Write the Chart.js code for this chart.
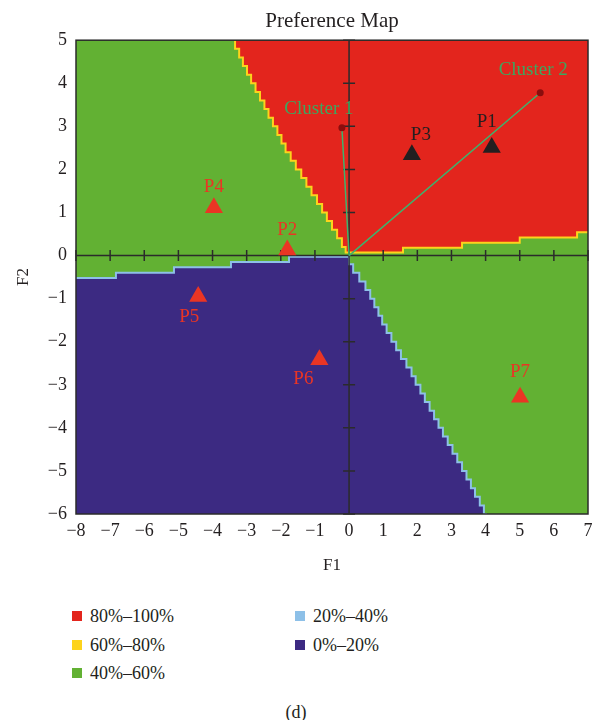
<!DOCTYPE html>
<html lang="en">
<head>
<meta charset="UTF-8">
<title>Preference Map</title>
<style>
  body { margin: 0; background: #fff; font-family: "Liberation Serif", serif; color: #231f20; }
  #wrap { position: relative; width: 592px; height: 720px; }
  #chart { position: absolute; left: 0; top: 0; }
  .key { position: absolute; font-size: 18px; line-height: 20px; white-space: nowrap; }
  .key i { position: absolute; left: 0; top: 5px; width: 10px; height: 10px; }
  .key span { position: absolute; left: 18px; top: 0; }
  #caption { position: absolute; left: 0; width: 592px; top: 701px; text-align: center; font-size: 18px; line-height: 22px; }
</style>
</head>
<body>
<div id="wrap">
  <canvas id="chart" width="592" height="590"></canvas>
  <div id="legend"></div>
  <div id="caption">(d)</div>
</div>

<script src="https://cdn.jsdelivr.net/npm/chart.js"></script>
<script>
// axis ticks
const xTicks = [-8, -7, -6, -5, -4, -3, -2, -1, 0, 1, 2, 3, 4, 5, 6, 7];
const yTicks = [-6, -5, -4, -3, -2, -1, 0, 1, 2, 3, 4, 5];

// lower edge of the 80%-100% zone, left to right
const redEdgeX = [-3.34, -3.22, -3.11, -2.99, -2.87, -2.74, -2.61, -2.48, -2.36, -2.23, -2.10, -1.98, -1.86,
                  -1.71, -1.56, -1.40, -1.25, -1.10, -0.94, -0.79, -0.65, -0.50, -0.35, -0.21, -0.10, -0.02,
                  1.58, 3.31, 5.00, 6.68, 7.00];
const redEdgeY = [5.0, 4.8, 4.6, 4.4, 4.2, 4.0, 3.8, 3.6, 3.4, 3.2, 3.0, 2.8, 2.6,
                  2.4, 2.2, 2.0, 1.8, 1.6, 1.4, 1.2, 1.0, 0.8, 0.6, 0.4, 0.2, 0.07,
                  0.07, 0.18, 0.30, 0.42, 0.54];

// upper edge of the 0%-20% zone, left to right
const blueEdgeX = [-8.00, -6.83, -5.13, -3.46, -1.76, 0.00, 0.12, 0.30, 0.48, 0.62, 0.74, 0.86, 0.97, 1.10,
                   1.24, 1.38, 1.52, 1.68, 1.83, 1.95, 2.09, 2.22, 2.36, 2.49, 2.62, 2.75, 2.89, 3.03,
                   3.17, 3.31, 3.44, 3.57, 3.69, 3.83, 3.95, 4.04];
const blueEdgeY = [-0.52, -0.52, -0.40, -0.27, -0.15, -0.03, -0.2, -0.4, -0.6, -0.8, -1.0, -1.2, -1.4, -1.6,
                   -1.8, -2.0, -2.2, -2.4, -2.6, -2.8, -3.0, -3.2, -3.4, -3.6, -3.8, -4.0, -4.2, -4.4,
                   -4.6, -4.8, -5.0, -5.2, -5.4, -5.6, -5.8, -6.0];

// products
const pointNames = ['P1', 'P2', 'P3', 'P4', 'P5', 'P6', 'P7'];
const pointX = [4.18, -1.81, 1.84, -3.96, -4.42, -0.87, 5.01];
const pointY = [2.51, 0.13, 2.34, 1.11, -0.95, -2.42, -3.29];

// cluster centres (vectors from origin)
const clusterNames = ['Cluster 1', 'Cluster 2'];
const clusterX = [-0.21, 5.60];
const clusterY = [2.97, 3.78];

const legendLabels = ['80%–100%', '60%–80%', '40%–60%', '20%–40%', '0%–20%'];

// styles
const C = {
  red: '#e3251d', yellow: '#fdd31c', green: '#62b133', lightBlue: '#8dc0e8', purple: '#3c2a82',
  triRed: '#ea3524', triBlack: '#231f20', clusterLine: '#3cb46e', clusterText: '#3ca760',
  clusterDot: '#8b0d0d', ink: '#231f20'
};
const legendColors = [C.red, C.yellow, C.green, C.lightBlue, C.purple];
const blackPoints = ['P1', 'P3'];
const pointLabelOffset = [[-5, -25], [0, -20], [9, -20], [0, -21], [-9, 21], [-16, 19], [0, -25]];
const clusterLabelOffset = [[-23, -19], [-7, -23]];
const FONT = '"Liberation Serif", "Times New Roman", serif';

function minus(v) { return String(v).replace('-', '\u2212'); }
function xy(xs, ys) { return xs.map((x, i) => ({x: x, y: ys[i]})); }

// legend (html)
const legendEl = document.getElementById('legend');
legendLabels.forEach((lab, i) => {
  const col = i < 3 ? 0 : 1, row = i < 3 ? i : i - 3;
  const d = document.createElement('div');
  d.className = 'key';
  d.style.left = (col ? 295 : 72) + 'px';
  d.style.top = (606 + row * 28.5) + 'px';
  d.innerHTML = '<i style="background:' + legendColors[i] + '"></i><span>' + lab + '</span>';
  legendEl.appendChild(d);
});

const greenBg = {
  id: 'greenBg',
  beforeDatasetsDraw(chart) {
    const a = chart.chartArea, ctx = chart.ctx;
    ctx.save();
    ctx.fillStyle = C.green;
    ctx.fillRect(a.left, a.top, a.right - a.left, a.bottom - a.top);
    ctx.restore();
  }
};

// frame + axes through the origin, drawn over the zones
const crossAxes = {
  id: 'crossAxes',
  afterDatasetDraw(chart, args) {
    if (args.index !== 1) return;
    const a = chart.chartArea, ctx = chart.ctx;
    const xs = chart.scales.x, ys = chart.scales.y;
    const x0 = xs.getPixelForValue(0), y0 = ys.getPixelForValue(0);
    ctx.save();
    ctx.strokeStyle = '#2b2b2b';
    ctx.lineWidth = 1.5;
    ctx.strokeRect(a.left, a.top, a.right - a.left, a.bottom - a.top);
    ctx.beginPath();
    ctx.moveTo(a.left, y0); ctx.lineTo(a.right, y0);
    ctx.moveTo(x0, a.top); ctx.lineTo(x0, a.bottom);
    xTicks.forEach(v => {
      if (v === 0) return;
      const p = xs.getPixelForValue(v);
      ctx.moveTo(p, y0 - 5.5); ctx.lineTo(p, y0 + 5.5);
    });
    yTicks.forEach(v => {
      if (v === 0) return;
      const p = ys.getPixelForValue(v);
      ctx.moveTo(x0 - 6, p); ctx.lineTo(x0 + 6, p);
    });
    ctx.stroke();
    ctx.restore();
  }
};

const markLabels = {
  id: 'markLabels',
  afterDatasetsDraw(chart) {
    const ctx = chart.ctx;
    ctx.save();
    ctx.font = '19px ' + FONT;
    ctx.textAlign = 'center';
    ctx.textBaseline = 'middle';
    const pm = chart.getDatasetMeta(4);
    pointNames.forEach((n, i) => {
      const el = pm.data[i];
      ctx.fillStyle = blackPoints.includes(n) ? C.triBlack : C.triRed;
      ctx.fillText(n, el.x + pointLabelOffset[i][0], el.y + pointLabelOffset[i][1]);
    });
    ctx.fillStyle = C.clusterText;
    clusterNames.forEach((n, i) => {
      const el = chart.getDatasetMeta(2 + i).data[1];
      ctx.fillText(n, el.x + clusterLabelOffset[i][0], el.y + clusterLabelOffset[i][1]);
    });
    ctx.restore();
  }
};

const datasets = [
  {
    label: '80%-100%', data: xy(redEdgeX, redEdgeY), showLine: true, stepped: 'after',
    fill: 'end', backgroundColor: C.red, borderColor: C.yellow, borderWidth: 2,
    pointRadius: 0, order: 4
  },
  {
    label: '0%-20%', data: xy(blueEdgeX, blueEdgeY), showLine: true, stepped: 'after',
    fill: 'start', backgroundColor: C.purple, borderColor: C.lightBlue, borderWidth: 2,
    pointRadius: 0, order: 3
  }
];
clusterNames.forEach((n, i) => {
  datasets.push({
    label: n, data: [{x: 0, y: 0}, {x: clusterX[i], y: clusterY[i]}], showLine: true,
    borderColor: C.clusterLine, borderWidth: 1.5, pointRadius: [0, 3.5],
    pointBackgroundColor: C.clusterDot, pointBorderWidth: 0, order: 2
  });
});
datasets.push({
  label: 'points', data: xy(pointX, pointY), pointStyle: 'triangle', pointRadius: 10.5,
  pointBorderWidth: 0,
  pointBackgroundColor: pointNames.map(n => blackPoints.includes(n) ? C.triBlack : C.triRed),
  order: 1
});

new Chart(document.getElementById('chart'), {
  type: 'scatter',
  data: { datasets: datasets },
  options: {
    responsive: false,
    animation: false,
    events: [],
    layout: { autoPadding: false, padding: { left: 0, right: 4, top: 0, bottom: 0 } },
    plugins: {
      legend: { display: false },
      tooltip: { enabled: false },
      title: {
        display: true, text: 'Preference Map', fullSize: false, color: C.ink,
        font: { family: FONT, size: 21, weight: 'normal' }, padding: { top: 9, bottom: 6 }
      }
    },
    scales: {
      x: {
        type: 'linear', min: -8, max: 7,
        afterBuildTicks: s => { s.ticks = xTicks.map(v => ({value: v})); },
        afterFit: s => { s.height = 76; s.paddingLeft = 0; s.paddingRight = 0; },
        grid: { display: false, drawTicks: false },
        border: { display: false },
        ticks: { padding: 6, color: C.ink, font: { family: FONT, size: 18 }, callback: v => minus(v) },
        title: { display: true, text: 'F1', color: C.ink, font: { family: FONT, size: 17 }, padding: { bottom: 14 } }
      },
      y: {
        type: 'linear', min: -6, max: 5,
        afterBuildTicks: s => { s.ticks = yTicks.map(v => ({value: v})); },
        afterFit: s => { s.width = 76; s.paddingTop = 0; s.paddingBottom = 0; },
        grid: { display: false, drawTicks: false },
        border: { display: false },
        ticks: { padding: 9, color: C.ink, font: { family: FONT, size: 18 }, callback: v => minus(v) },
        title: { display: true, text: 'F2', color: C.ink, font: { family: FONT, size: 17 }, padding: { top: 13 } }
      }
    }
  },
  plugins: [greenBg, crossAxes, markLabels]
});
</script>
</body>
</html>
